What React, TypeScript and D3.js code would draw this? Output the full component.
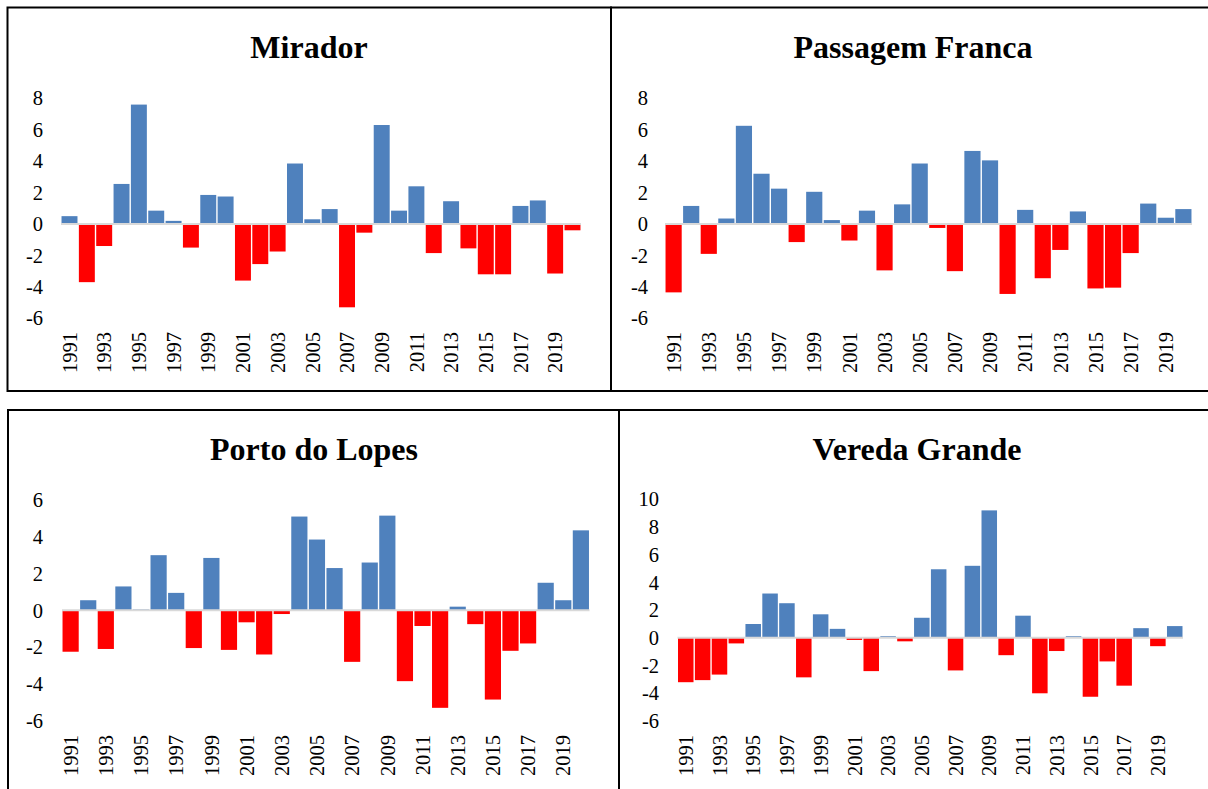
import React, { useEffect, useRef } from "react";
import * as d3 from "d3";

const years = d3.range(1991, 2021).map(String);

const mirador = [0.5, -3.7, -1.4, 2.55, 7.6, 0.85, 0.2, -1.5, 1.85, 1.75, -3.6, -2.55, -1.75, 3.85, 0.3, 0.95, -5.3, -0.55, 6.3, 0.85, 2.4, -1.85, 1.45, -1.55, -3.2, -3.2, 1.15, 1.5, -3.15, -0.4];
const passagemFranca = [-4.35, 1.15, -1.9, 0.35, 6.25, 3.2, 2.25, -1.15, 2.05, 0.25, -1.05, 0.85, -2.95, 1.25, 3.85, -0.25, -3.0, 4.65, 4.05, -4.45, 0.9, -3.45, -1.65, 0.8, -4.1, -4.05, -1.85, 1.3, 0.4, 0.95];
const portoDoLopes = [-2.25, 0.55, -2.1, 1.3, 0.05, 3.0, 0.95, -2.05, 2.85, -2.15, -0.65, -2.4, -0.2, 5.1, 3.85, 2.3, -2.8, 2.6, 5.15, -3.85, -0.85, -5.3, 0.2, -0.75, -4.85, -2.2, -1.8, 1.5, 0.55, 4.35];
const veredaGrande = [-3.2, -3.05, -2.65, -0.4, 1.0, 3.2, 2.5, -2.85, 1.7, 0.65, -0.15, -2.4, 0.12, -0.25, 1.45, 4.95, -2.35, 5.2, 9.2, -1.25, 1.6, -4.0, -0.95, 0.12, -4.25, -1.7, -3.45, 0.7, -0.6, 0.85];

const titles = ["Mirador", "Passagem Franca", "Porto do Lopes", "Vereda Grande"];
const seriesList = [mirador, passagemFranca, portoDoLopes, veredaGrande];
const yDomains: [number, number][] = [[-6, 8], [-6, 8], [-6, 6], [-6, 10]];

// layout (pixels) for each panel
const layouts = [
  { x: [61, 581], y: [318.3, 98.3], labelX: 43, yearTop: 332, titleX: 309, titleY: 58 },
  { x: [665, 1192], y: [318.3, 98.3], labelX: 648, yearTop: 332, titleX: 913, titleY: 58 },
  { x: [62, 589.5], y: [720.7, 500], labelX: 43, yearTop: 735, titleX: 314, titleY: 460 },
  { x: [677.5, 1183], y: [721, 499.3], labelX: 659, yearTop: 735, titleX: 917, titleY: 460 },
];

const BLUE = "#4F81BD";
const RED = "#FF0000";
const FONT = "Liberation Serif, Times New Roman, serif";

export default function App() {
  const ref = useRef<SVGSVGElement>(null);

  useEffect(() => {
    const svg = d3.select(ref.current);
    svg.selectAll("*").remove();
    svg.append("rect").attr("width", 1208).attr("height", 789).attr("fill", "#fff");

    seriesList.forEach((values, i) => {
      const L = layouts[i];
      const g = svg.append("g");
      const x = d3.scaleBand<string>().domain(years).range(L.x as [number, number]).paddingInner(0.08).paddingOuter(0.03);
      const y = d3.scaleLinear().domain(yDomains[i]).range(L.y as [number, number]);
      const ticks = d3.range(yDomains[i][0], yDomains[i][1] + 0.001, 2);

      g.append("text")
        .attr("x", L.titleX).attr("y", L.titleY)
        .attr("text-anchor", "middle")
        .style("font-family", FONT).style("font-weight", "bold").style("font-size", "32px")
        .attr("fill", "#000")
        .text(titles[i]);

      g.selectAll("text.yt").data(ticks).enter().append("text")
        .attr("class", "yt")
        .attr("x", L.labelX).attr("y", (d) => y(d))
        .attr("dy", "0.35em")
        .attr("text-anchor", "end")
        .style("font-family", FONT).style("font-size", "20.5px").attr("fill", "#000")
        .text((d) => String(d));

      g.selectAll("rect.bar").data(values).enter().append("rect")
        .attr("class", "bar")
        .attr("x", (_, j) => x(years[j])!)
        .attr("width", x.bandwidth())
        .attr("y", (d) => y(Math.max(0, d)))
        .attr("height", (d) => Math.abs(y(d) - y(0)))
        .attr("fill", (d) => (d >= 0 ? BLUE : RED));

      g.append("line")
        .attr("x1", L.x[0]).attr("x2", L.x[1])
        .attr("y1", y(0)).attr("y2", y(0))
        .attr("stroke", "#d9d9d9").attr("stroke-width", 2);

      const labelYears = years.filter((_, j) => j % 2 === 0);
      g.selectAll("text.xt").data(labelYears).enter().append("text")
        .attr("class", "xt")
        .attr("transform", (d) => `translate(${x(d)! + x.bandwidth() / 2},${L.yearTop}) rotate(-90)`)
        .attr("dy", "0.35em")
        .attr("text-anchor", "end")
        .style("font-family", FONT).style("font-size", "20.5px").attr("fill", "#000")
        .text((d) => d);
    });

    // panel frames
    const frame = svg.append("g").attr("fill", "none").attr("stroke", "#000").attr("stroke-width", 2);
    frame.append("rect").attr("x", 7.5).attr("y", 7.5).attr("width", 603.5).attr("height", 383.5);
    frame.append("rect").attr("x", 611).attr("y", 7.5).attr("width", 612).attr("height", 383.5);
    frame.append("rect").attr("x", 8).attr("y", 410).attr("width", 611).attr("height", 400);
    frame.append("rect").attr("x", 619).attr("y", 410).attr("width", 610).attr("height", 400);
  }, []);

  return (
    <svg
      ref={ref}
      width={1208}
      height={789}
      style={{ position: "absolute", left: 0, top: 0, display: "block" }}
    />
  );
}
